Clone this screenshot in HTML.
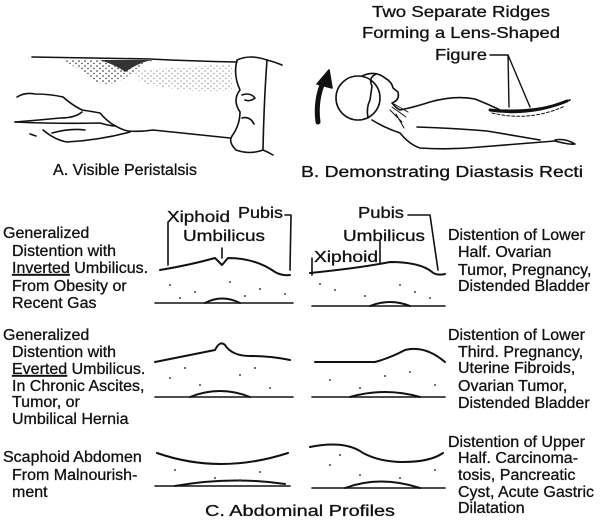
<!DOCTYPE html>
<html><head><style>
html,body{margin:0;padding:0;background:#fff;}
svg{display:block}
text{font-family:"Liberation Sans",sans-serif;font-size:16px;fill:#111;stroke:#111;stroke-width:0.3;}
</style></head><body>
<svg width="602" height="524" viewBox="0 0 602 524" xmlns="http://www.w3.org/2000/svg">
<defs>
<pattern id="st" width="6" height="5" patternUnits="userSpaceOnUse">
<circle cx="1" cy="1" r="0.8" fill="#222"/><circle cx="4" cy="3.5" r="0.7" fill="#222"/>
</pattern>
</defs>
<!-- stipple on A -->
<path d="M62 59 Q80 70 95 82 Q115 88 130 74 Q145 62 155 60 Z" fill="url(#st)"/>
<path d="M100 60 Q118 66 125 72 Q140 62 152 60 Z" fill="#333"/>
<path d="M130 70 Q180 68 232 64 L232 90 Q190 95 140 82 Z" fill="url(#st)" opacity="0.45"/>
<g fill="none" stroke="#111" stroke-width="1.6" stroke-linecap="round" stroke-linejoin="round">
<!-- A drawing -->
<path d="M32 57 Q80 58 150 59 Q190 61 237 62"/>
<path d="M17 97 Q25 92 35 94 Q50 94 63 97 Q72 105 82 110 Q95 112 100 113 Q106 120 112 124 Q122 130 128 131 Q140 132 153 130 Q190 134 230 138"/>
<path d="M15 122 Q40 120 60 118 Q75 118 82 112"/><path d="M15 122 Q60 124 100 123 Q110 126 116 126"/>
<path d="M43 130 Q55 140 67 142 Q100 140 130 132"/><path d="M30 134 L36 136"/><path d="M52 133 Q70 128 85 130"/>
<path d="M237 60 Q250 54 267 60 Q264 100 263 150 Q250 155 236 150 Q228 142 232 136 Q240 125 240 112 Q232 100 240 90 Q233 75 237 60Z"/>
<path d="M267 60 Q275 62 282 65"/><path d="M263 150 Q268 152 273 155"/>
<path d="M242 95 Q250 92 255 98 Q250 102 245 100"/><path d="M242 118 Q250 116 254 124"/>
<!-- B drawing -->
<circle cx="358" cy="98" r="22"/>
<path d="M362 76 Q375 70 385 78 Q392 82 393 88 L398 92 Q400 100 392 103 Q396 108 400 110 Q415 107 430 102 Q455 95 475 99 Q490 105 500 110 Q540 112 570 100"/>
<path d="M368 118 Q366 108 370 100 L372 86 Q368 78 376 74"/>
<path d="M372 120 Q385 128 400 133 Q410 145 420 148 Q450 150 480 147 Q530 143 555 141 Q570 145 575 144 Q565 138 555 140"/>
<path d="M417 127 Q450 128 487 131 Q510 135 540 140"/>
<path d="M490 110 Q530 116 567 101" stroke-width="3"/>
<path d="M492 113 Q530 122 565 106" stroke-width="1" stroke-dasharray="3 2"/>
<path d="M490 55 L508 55 L509 107 M508 55 L530 107" stroke-width="1.4"/>
<path d="M390 110 L402 122 M392 107 L406 117 M394 104 L408 112 M396 114 L404 128" stroke-width="1"/>
<path d="M318 122 Q315 100 324 80" stroke-width="5"/>
<path d="M317 84 L329 70 L332 88Z" fill="#111"/>
<!-- profiles -->
<path d="M160 270 Q190 265 215 258 L222 265 L228 258 Q255 258 275 272 Q282 276 290 275" stroke-width="2"/>
<path d="M155 303 L293 303"/><path d="M205 303 Q222 294 240 303" stroke-width="2"/>
<path d="M310 273 Q360 268 390 262 Q420 262 432 272 Q437 276 445 274" stroke-width="2"/>
<path d="M312 306 L445 306"/><path d="M370 306 Q390 298 410 306" stroke-width="2"/>
<path d="M155 362 Q190 355 215 350 Q220 340 225 345 Q232 356 250 356 Q270 356 290 360" stroke-width="2"/>
<path d="M155 397 L293 397"/><path d="M190 397 Q220 385 250 397" stroke-width="2"/>
<path d="M315 362 L375 362 Q390 358 405 350 Q425 345 445 362" stroke-width="2"/>
<path d="M312 397 L445 397"/><path d="M350 397 Q385 387 420 397" stroke-width="2"/>
<path d="M157 453 Q220 475 288 453" stroke-width="2"/>
<path d="M155 486 L290 486"/><path d="M175 486 Q230 476 285 484" stroke-width="2"/>
<path d="M310 447 Q345 440 363 453 Q380 462 403 462 Q430 462 443 453" stroke-width="2"/>
<path d="M312 488 L445 488"/><path d="M345 488 Q380 475 420 488" stroke-width="2"/>
<!-- label leaders -->
<path d="M168 222 L168 265"/><path d="M222 248 L222 258"/><path d="M285 215 L291 215 L290 270"/>
<path d="M312 258 L312 275"/><path d="M380 240 L380 263"/><path d="M408 215 L430 215 L438 270"/>
</g>
<g fill="#444">
<circle cx="170" cy="285" r="1"/><circle cx="195" cy="292" r="1"/><circle cx="230" cy="282" r="1"/><circle cx="260" cy="289" r="1"/><circle cx="285" cy="294" r="1"/><circle cx="180" cy="298" r="1"/><circle cx="245" cy="296" r="1"/>
<circle cx="335" cy="290" r="1"/><circle cx="365" cy="296" r="1"/><circle cx="400" cy="285" r="1"/><circle cx="430" cy="298" r="1"/><circle cx="320" cy="284" r="1"/><circle cx="415" cy="292" r="1"/>
<circle cx="170" cy="378" r="1"/><circle cx="200" cy="385" r="1"/><circle cx="240" cy="375" r="1"/><circle cx="270" cy="388" r="1"/><circle cx="185" cy="368" r="1"/><circle cx="255" cy="368" r="1"/>
<circle cx="330" cy="380" r="1"/><circle cx="360" cy="388" r="1"/><circle cx="410" cy="372" r="1"/><circle cx="435" cy="385" r="1"/><circle cx="385" cy="376" r="1"/>
<circle cx="175" cy="470" r="1"/><circle cx="215" cy="478" r="1"/><circle cx="260" cy="472" r="1"/><circle cx="240" cy="480" r="1"/>
<circle cx="330" cy="465" r="1"/><circle cx="360" cy="475" r="1"/><circle cx="400" cy="478" r="1"/><circle cx="435" cy="470" r="1"/><circle cx="340" cy="455" r="1"/>
</g>
<!-- text -->
<g style="font-size:19px">
<text x="372" y="17" textLength="178" lengthAdjust="spacingAndGlyphs">Two Separate Ridges</text>
<text x="362" y="38" textLength="198" lengthAdjust="spacingAndGlyphs">Forming a Lens-Shaped</text>
<text x="435" y="60" textLength="52" lengthAdjust="spacingAndGlyphs">Figure</text>
<text x="53" y="175" textLength="144" lengthAdjust="spacingAndGlyphs">A. Visible Peristalsis</text>
<text x="301" y="177" textLength="282" lengthAdjust="spacingAndGlyphs">B. Demonstrating Diastasis Recti</text>
<text x="205" y="516" textLength="190" lengthAdjust="spacingAndGlyphs">C. Abdominal Profiles</text>
</g>
<g style="font-size:18px">
<text x="167" y="222" textLength="63" lengthAdjust="spacingAndGlyphs">Xiphoid</text>
<text x="238" y="218" textLength="45" lengthAdjust="spacingAndGlyphs">Pubis</text>
<text x="183" y="241" textLength="82" lengthAdjust="spacingAndGlyphs">Umbilicus</text>
<text x="358" y="218" textLength="46" lengthAdjust="spacingAndGlyphs">Pubis</text>
<text x="343" y="241" textLength="82" lengthAdjust="spacingAndGlyphs">Umbilicus</text>
<text x="314" y="262" textLength="64" lengthAdjust="spacingAndGlyphs">Xiphoid</text>
</g>
<g style="font-size:15.5px">
<text x="3" y="238">Generalized</text>
<text x="12" y="256">Distention with</text>
<text x="12" y="273"><tspan text-decoration="underline">Inverted</tspan> Umbilicus.</text>
<text x="12" y="291">From Obesity or</text>
<text x="12" y="308">Recent Gas</text>
<text x="3" y="340">Generalized</text>
<text x="12" y="357">Distention with</text>
<text x="12" y="374"><tspan text-decoration="underline">Everted</tspan> Umbilicus.</text>
<text x="12" y="391">In Chronic Ascites,</text>
<text x="12" y="407">Tumor, or</text>
<text x="12" y="424">Umbilical Hernia</text>
<text x="3" y="462">Scaphoid Abdomen</text>
<text x="12" y="480">From Malnourish-</text>
<text x="12" y="497">ment</text>
<text x="448" y="240">Distention of Lower</text>
<text x="458" y="257">Half. Ovarian</text>
<text x="458" y="275">Tumor, Pregnancy,</text>
<text x="458" y="291">Distended Bladder</text>
<text x="448" y="340">Distention of Lower</text>
<text x="458" y="357">Third. Pregnancy,</text>
<text x="458" y="373">Uterine Fibroids,</text>
<text x="458" y="391">Ovarian Tumor,</text>
<text x="458" y="408">Distended Bladder</text>
<text x="448" y="447">Distention of Upper</text>
<text x="458" y="463">Half. Carcinoma-</text>
<text x="458" y="480">tosis, Pancreatic</text>
<text x="458" y="497">Cyst, Acute Gastric</text>
<text x="458" y="513">Dilatation</text>
</g>
</svg>
</body></html>
